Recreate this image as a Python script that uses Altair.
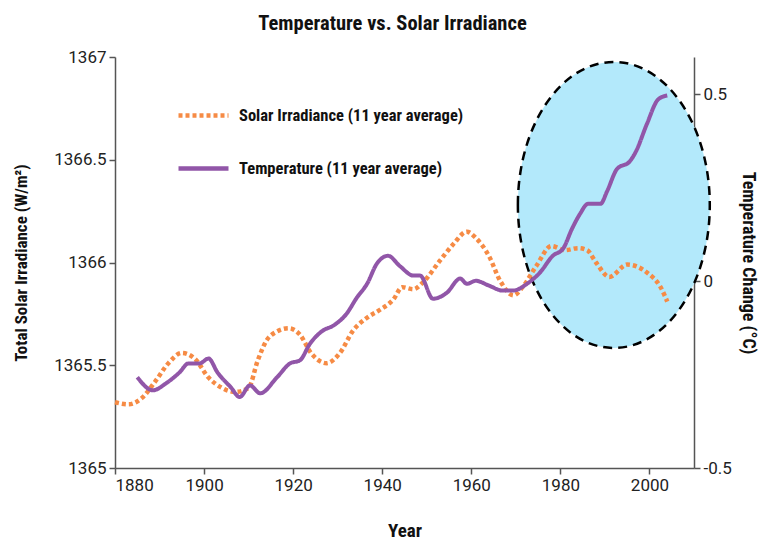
import altair as alt
import pandas as pd

# ---- data ----
solar_years = [1880, 1883, 1886, 1889, 1892, 1895, 1898, 1901, 1904, 1907, 1910, 1912,
               1914, 1916, 1919, 1921.5, 1924, 1927.5, 1930.5, 1933.5, 1936.5, 1939.5,
               1942.5, 1944.5, 1947, 1949, 1953, 1956, 1959, 1961, 1964, 1966.5, 1969.5,
               1971.5, 1974.5, 1978, 1981, 1984, 1986, 1988, 1991, 1995, 1999.5, 2002.5, 2004]
solar_vals = [1365.32, 1365.31, 1365.34, 1365.42, 1365.51, 1365.56, 1365.53, 1365.44,
              1365.39, 1365.37, 1365.39, 1365.52, 1365.62, 1365.66, 1365.68, 1365.65,
              1365.56, 1365.51, 1365.56, 1365.67, 1365.73, 1365.77, 1365.82, 1365.88,
              1365.87, 1365.90, 1366.01, 1366.09, 1366.15, 1366.12, 1366.03, 1365.91,
              1365.84, 1365.88, 1365.98, 1366.08, 1366.06, 1366.07, 1366.06, 1366.00,
              1365.93, 1365.99, 1365.95, 1365.88, 1365.81]

temp_years = [1885, 1888.5, 1891.5, 1894.5, 1896.5, 1899, 1901, 1903, 1906, 1908, 1910.3,
              1912.6, 1916.4, 1919.3, 1921.5, 1923.8, 1926.7, 1929, 1932, 1934.3, 1936.6,
              1938.8, 1941.3, 1944, 1947, 1948.5, 1951.4, 1954.5, 1957.5, 1959, 1961, 1964,
              1967, 1969.4, 1972.5, 1975.4, 1978.3, 1980.6, 1982.6, 1984.4, 1986.2, 1989,
              1990.5, 1992.7, 1995.6, 1997, 1999.4, 2002, 2004]
temp_vals = [-0.257, -0.292, -0.273, -0.244, -0.22, -0.22, -0.207, -0.244, -0.284, -0.31,
             -0.279, -0.30, -0.257, -0.22, -0.212, -0.167, -0.132, -0.119, -0.087, -0.044,
             -0.007, 0.047, 0.068, 0.04, 0.015, 0.015, -0.047, -0.031, 0.007, -0.007, 0.001,
             -0.012, -0.025, -0.025, -0.007, 0.023, 0.068, 0.087, 0.14, 0.18, 0.207, 0.207,
             0.241, 0.30, 0.321, 0.348, 0.42, 0.487, 0.497]

series_names = ["Solar Irradiance (11 year average)", "Temperature (11 year average)"]
series_colors = ["#f68b45", "#9156a8"]

highlight_year = [1992]
highlight_irr = [1366.28]

x_ticks = [1880, 1900, 1920, 1940, 1960, 1980, 2000]
left_ticks = [1365, 1365.5, 1366, 1366.5, 1367]
right_ticks = [-0.5, 0, 0.5]

# ---- tables ----
solar_df = pd.DataFrame({"Year": solar_years, "Value": solar_vals, "Series": series_names[0]})
temp_df = pd.DataFrame({"Year": temp_years, "Value": temp_vals, "Series": series_names[1]})
ell_df = pd.DataFrame({"Year": highlight_year, "Value": highlight_irr})

NARROW = ("'Roboto Condensed', 'Liberation Sans Narrow', 'Arial Narrow', "
          "'DejaVu Sans Condensed', 'Open Sans Condensed', 'Noto Sans Condensed', Lato, sans-serif")
LABEL = "Roboto, sans-serif"

x_enc = alt.X(
    "Year:Q",
    scale=alt.Scale(domain=[1880, 2010], nice=False, zero=False),
    axis=alt.Axis(values=x_ticks, title="Year", labelExpr="'' + datum.value",
                  titlePadding=28, titleFontSize=19),
)

left_axis = alt.Axis(values=left_ticks, title="Total Solar Irradiance (W/m²)",
                     labelExpr="'' + datum.value", orient="left", titlePadding=23,
                     titleFontSize=17)
left_scale = alt.Scale(domain=[1365, 1367], nice=False, zero=False)

legend = alt.Legend(title=None, orient="none", legendX=61, legendY=31,
                    symbolType="stroke", symbolSize=2500, symbolStrokeWidth=4.5,
                    labelFont=NARROW, labelFontWeight="bold", labelFontSize=16.5,
                    labelColor="#111", labelOffset=8, labelLimit=500, rowPadding=16, padding=0)

color_enc = alt.Color("Series:N", scale=alt.Scale(domain=series_names, range=series_colors),
                      legend=legend)
dash_enc = alt.StrokeDash("Series:N", scale=alt.Scale(domain=series_names, range=[[4, 3], [1, 0]]),
                          legend=legend)

ellipse_shape = "M -0.671 0 A 0.671 1 0 1 1 0.671 0 A 0.671 1 0 1 1 -0.671 0 Z"

ell = alt.Chart(ell_df).mark_point(
    shape=ellipse_shape, size=81796, filled=True, fill="#b3e9fb", fillOpacity=1,
    stroke="#000000", strokeWidth=2.5, strokeDash=[9, 6], opacity=1,
).encode(x=x_enc, y=alt.Y("Value:Q", scale=left_scale, axis=left_axis))

solar = alt.Chart(solar_df).mark_line(strokeWidth=4.5, strokeCap="butt", interpolate="monotone").encode(
    x=x_enc, y=alt.Y("Value:Q", scale=left_scale, axis=left_axis),
    color=color_enc, strokeDash=dash_enc,
)

temp = alt.Chart(temp_df).mark_line(strokeWidth=4, interpolate="monotone").encode(
    x=x_enc,
    y=alt.Y("Value:Q", scale=alt.Scale(domain=[-0.5, 0.6], nice=False, zero=False),
            axis=alt.Axis(values=right_ticks, title="Temperature Change (°C)", orient="right",
                          labelExpr="'' + datum.value", titlePadding=7, titleFontSize=18)),
    color=color_enc, strokeDash=dash_enc,
)

left = alt.layer(ell, solar)
chart = alt.layer(left, temp).resolve_scale(y="independent").properties(
    width=579, height=411,
    autosize=alt.AutoSizeParams(type="none"),
    padding={"left": 107, "top": 49, "right": 67, "bottom": 73},
    title=alt.Title("Temperature vs. Solar Irradiance", font=NARROW, fontSize=20.5,
                    fontWeight="bold", color="#111", offset=14, dx=-12),
).configure_view(stroke=None).configure_axis(
    grid=False, domainColor="#555", domainWidth=1.5, tickColor="#555", tickWidth=1.5,
    tickSize=6, labelFont=LABEL, labelFontSize=17, labelColor="#222", labelPadding=3,
    titleFont=NARROW, titleFontWeight="bold", titleColor="#111",
)

chart.save("out.html", embed_options={"renderer": "svg", "actions": False})
